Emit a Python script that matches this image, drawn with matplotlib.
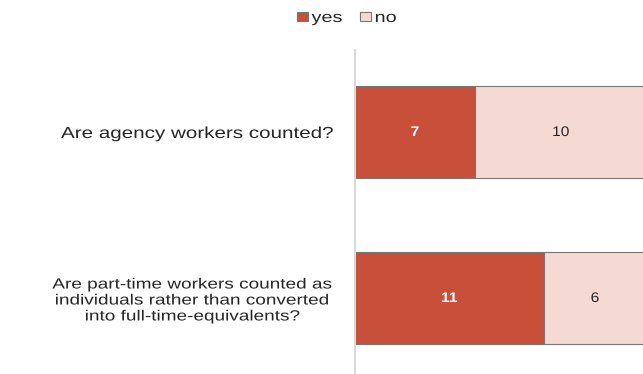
import matplotlib
matplotlib.use("Agg")
import matplotlib.pyplot as plt
from matplotlib.patheffects import AbstractPathEffect
from matplotlib.transforms import Affine2D

plt.rcParams['font.family'] = ['Liberation Sans', 'DejaVu Sans']

questions = ["Are agency workers counted?",
             "Are part-time workers counted as\nindividuals rather than converted\ninto full-time-equivalents?"]
yes_counts = [7, 11]
no_counts = [10, 6]

yes_color = "#C8503A"
no_color = "#F5DAD4"
edge = "#767676"


class WideText(AbstractPathEffect):
    """Draw text widened horizontally about its alignment point."""

    def __init__(self, text, sx):
        super().__init__()
        self.text = text
        self.sx = sx

    def draw_path(self, renderer, gc, tpath, affine, rgbFace=None):
        bb = self.text.get_window_extent(renderer)
        ha = self.text.get_horizontalalignment()
        px = {"left": bb.x0, "center": (bb.x0 + bb.x1) / 2, "right": bb.x1}[ha]
        stretch = Affine2D().translate(-px, 0).scale(self.sx, 1).translate(px, 0)
        renderer.draw_path(gc, tpath, affine + stretch, rgbFace)


fig = plt.figure(figsize=(6.43, 3.74), dpi=100)
ax = fig.add_axes([355 / 643, 0.0, 291.4 / 643, 1 - 50 / 374])

pos = list(range(len(questions)))
h = 0.554
b1 = ax.barh(pos, yes_counts, height=h, color=yes_color, edgecolor=edge, linewidth=0.8, label="yes")
b2 = ax.barh(pos, no_counts, left=yes_counts, height=h, color=no_color, edgecolor=edge, linewidth=0.8, label="no")

for p, y, n in zip(pos, yes_counts, no_counts):
    t = ax.text(y / 2, p, str(y), ha="center", va="center", color="white", fontsize=10, fontweight="bold")
    t.set_path_effects([WideText(t, 1.12)])
    t = ax.text(y + n / 2, p, str(n), ha="center", va="center", color="#262626", fontsize=10)
    t.set_path_effects([WideText(t, 1.12)])

ax.set_xlim(0, 17)
ax.set_ylim(1.458, -0.494)
ax.set_yticks(pos)
labels = ax.set_yticklabels(questions, fontsize=11.5, color="#262626", multialignment="center")
labels[1].set_fontsize(10.6)
labels[1].set_linespacing(1.18)
for lbl in labels:
    lbl.set_path_effects([WideText(lbl, 1.29)])
ax.tick_params(axis="y", length=0, pad=15)
ax.set_xticks([])
for s in ["top", "right", "bottom"]:
    ax.spines[s].set_visible(False)
ax.spines["left"].set_color("#d9d9d9")
ax.spines["left"].set_linewidth(1.5)

leg = fig.legend(handles=[b1, b2], labels=["yes", "no"], loc="center",
                 bbox_to_anchor=(344 / 643, 1 - 18 / 374),
                 ncol=2, frameon=False, fontsize=11, handlelength=0.72, handleheight=0.6,
                 handletextpad=0.26, columnspacing=1.6)
for t in leg.get_texts():
    t.set_color("#262626")
    t.set_path_effects([WideText(t, 1.3)])

fig.savefig("out.png", dpi=100)
